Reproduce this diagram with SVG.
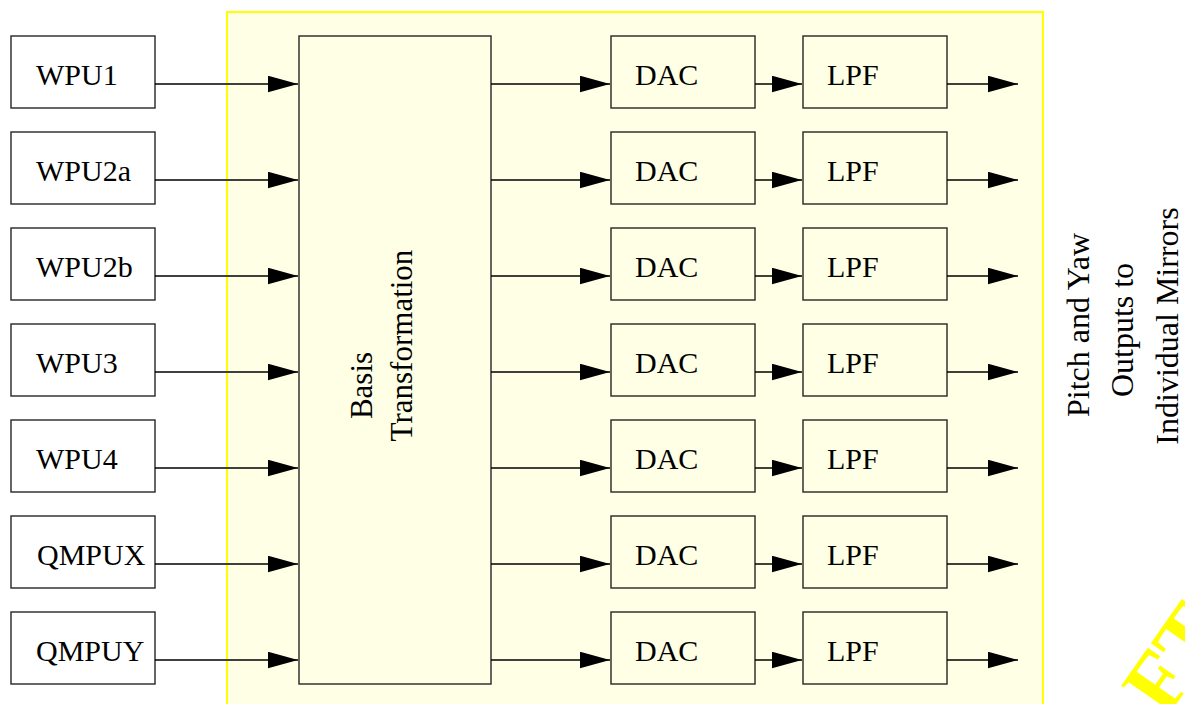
<svg xmlns="http://www.w3.org/2000/svg" width="1185" height="704" viewBox="0 0 1185 704">
<defs>
<style>
.box{fill:#ffffff;stroke:#262626;stroke-width:1.4}
.ybox{fill:#ffffe6;stroke:#262626;stroke-width:1.4}
.lbl{font-family:"Liberation Serif","Times New Roman",serif;font-size:30px;fill:#000}
.rot{font-family:"Liberation Serif","Times New Roman",serif;fill:#000;text-anchor:middle}
.ln{stroke:#000;stroke-width:1.4;fill:none;marker-end:url(#ah)}
</style>
<marker id="ah" markerUnits="userSpaceOnUse" markerWidth="30" markerHeight="17" refX="30" refY="8.3" orient="auto">
<path d="M0,0 L30,8.3 L0,16.6 z" fill="#000"/>
</marker>
</defs>
<rect width="1185" height="704" fill="#ffffff"/>
<rect id="panel" x="227" y="12" width="816" height="720" fill="#ffffe6" stroke="#ffff00" stroke-width="2"/>

<g id="WPU1"><rect class="box" x="11" y="36" width="144" height="72"/><text class="lbl" x="36" y="85">WPU1</text></g>
<g id="WPU2a"><rect class="box" x="11" y="132" width="144" height="72"/><text class="lbl" x="36" y="181">WPU2a</text></g>
<g id="WPU2b"><rect class="box" x="11" y="228" width="144" height="72"/><text class="lbl" x="36" y="277">WPU2b</text></g>
<g id="WPU3"><rect class="box" x="11" y="324" width="144" height="72"/><text class="lbl" x="36" y="373">WPU3</text></g>
<g id="WPU4"><rect class="box" x="11" y="420" width="144" height="72"/><text class="lbl" x="36" y="469">WPU4</text></g>
<g id="QMPUX"><rect class="box" x="11" y="516" width="144" height="72"/><text class="lbl" x="37" y="565">QMPUX</text></g>
<g id="QMPUY"><rect class="box" x="11" y="612" width="144" height="72"/><text class="lbl" x="36" y="661">QMPUY</text></g>

<g id="basis"><rect class="ybox" x="299" y="36" width="192" height="648"/>
<text class="rot" font-size="31" transform="translate(372,385.5) rotate(-90)">Basis</text>
<text class="rot" font-size="31" transform="translate(412,345.5) rotate(-90)">Transformation</text></g>

<g id="DAC1"><rect class="ybox" x="611" y="36" width="144" height="72"/><text class="lbl" x="635" y="85">DAC</text></g>
<g id="DAC2"><rect class="ybox" x="611" y="132" width="144" height="72"/><text class="lbl" x="635" y="181">DAC</text></g>
<g id="DAC3"><rect class="ybox" x="611" y="228" width="144" height="72"/><text class="lbl" x="635" y="277">DAC</text></g>
<g id="DAC4"><rect class="ybox" x="611" y="324" width="144" height="72"/><text class="lbl" x="635" y="373">DAC</text></g>
<g id="DAC5"><rect class="ybox" x="611" y="420" width="144" height="72"/><text class="lbl" x="635" y="469">DAC</text></g>
<g id="DAC6"><rect class="ybox" x="611" y="516" width="144" height="72"/><text class="lbl" x="635" y="565">DAC</text></g>
<g id="DAC7"><rect class="ybox" x="611" y="612" width="144" height="72"/><text class="lbl" x="635" y="661">DAC</text></g>

<g id="LPF1"><rect class="ybox" x="803" y="36" width="144" height="72"/><text class="lbl" x="827" y="85">LPF</text></g>
<g id="LPF2"><rect class="ybox" x="803" y="132" width="144" height="72"/><text class="lbl" x="827" y="181">LPF</text></g>
<g id="LPF3"><rect class="ybox" x="803" y="228" width="144" height="72"/><text class="lbl" x="827" y="277">LPF</text></g>
<g id="LPF4"><rect class="ybox" x="803" y="324" width="144" height="72"/><text class="lbl" x="827" y="373">LPF</text></g>
<g id="LPF5"><rect class="ybox" x="803" y="420" width="144" height="72"/><text class="lbl" x="827" y="469">LPF</text></g>
<g id="LPF6"><rect class="ybox" x="803" y="516" width="144" height="72"/><text class="lbl" x="827" y="565">LPF</text></g>
<g id="LPF7"><rect class="ybox" x="803" y="612" width="144" height="72"/><text class="lbl" x="827" y="661">LPF</text></g>

<g id="connectors">
<line class="ln" x1="155" y1="84" x2="298" y2="84"/>
<line class="ln" x1="155" y1="180" x2="298" y2="180"/>
<line class="ln" x1="155" y1="276" x2="298" y2="276"/>
<line class="ln" x1="155" y1="372" x2="298" y2="372"/>
<line class="ln" x1="155" y1="468" x2="298" y2="468"/>
<line class="ln" x1="155" y1="564" x2="298" y2="564"/>
<line class="ln" x1="155" y1="660" x2="298" y2="660"/>

<line class="ln" x1="491" y1="84" x2="610" y2="84"/>
<line class="ln" x1="491" y1="180" x2="610" y2="180"/>
<line class="ln" x1="491" y1="276" x2="610" y2="276"/>
<line class="ln" x1="491" y1="372" x2="610" y2="372"/>
<line class="ln" x1="491" y1="468" x2="610" y2="468"/>
<line class="ln" x1="491" y1="564" x2="610" y2="564"/>
<line class="ln" x1="491" y1="660" x2="610" y2="660"/>

<line class="ln" x1="755" y1="84" x2="802" y2="84"/>
<line class="ln" x1="755" y1="180" x2="802" y2="180"/>
<line class="ln" x1="755" y1="276" x2="802" y2="276"/>
<line class="ln" x1="755" y1="372" x2="802" y2="372"/>
<line class="ln" x1="755" y1="468" x2="802" y2="468"/>
<line class="ln" x1="755" y1="564" x2="802" y2="564"/>
<line class="ln" x1="755" y1="660" x2="802" y2="660"/>

<line class="ln" x1="947" y1="84" x2="1018" y2="84"/>
<line class="ln" x1="947" y1="180" x2="1018" y2="180"/>
<line class="ln" x1="947" y1="276" x2="1018" y2="276"/>
<line class="ln" x1="947" y1="372" x2="1018" y2="372"/>
<line class="ln" x1="947" y1="468" x2="1018" y2="468"/>
<line class="ln" x1="947" y1="564" x2="1018" y2="564"/>
<line class="ln" x1="947" y1="660" x2="1018" y2="660"/>
</g>

<g id="outputs-label">
<text class="rot" font-size="32" transform="translate(1089,325) rotate(-90)">Pitch and Yaw</text>
<text class="rot" font-size="32" transform="translate(1133,330) rotate(-90)">Outputs to</text>
<text class="rot" font-size="32" transform="translate(1178,326) rotate(-90)">Individual Mirrors</text>
</g>

<text transform="translate(1166,719) rotate(-55)" x="-184" y="0" font-family="'Liberation Serif','Times New Roman',serif" font-weight="bold" font-size="85" fill="#ffff00">DRAFT</text>
</svg>
